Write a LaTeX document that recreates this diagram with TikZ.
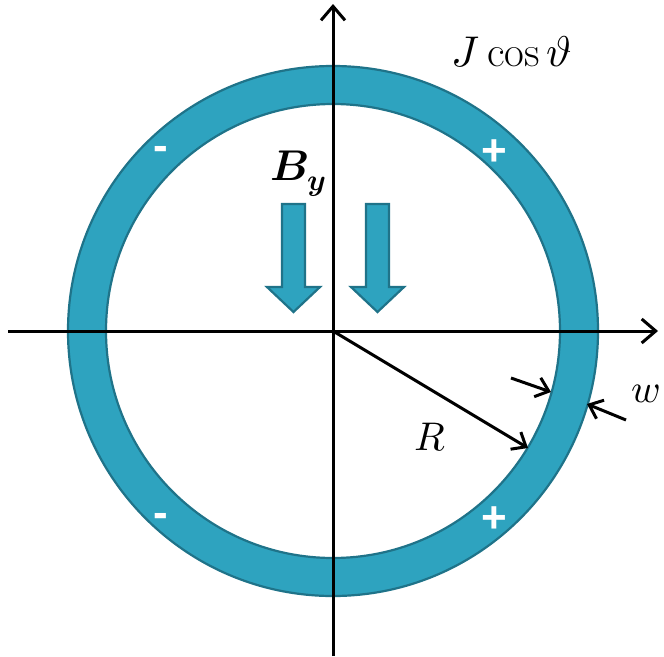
\documentclass[tikz,border=0pt]{standalone}
\usepackage{fontspec}
\usepackage{unicode-math}
\setmathfont{Latin Modern Math}
\newfontfamily\signfont{Liberation Sans}
\usetikzlibrary{arrows.meta}
\definecolor{ringfill}{HTML}{2EA3BF}
\definecolor{ringedge}{HTML}{1F7389}
\tikzset{
  axis/.style={line width=3pt,-{Straight Barb[length=14pt,width=24pt,line width=3pt]}},
  dimarrow/.style={line width=3pt,-{Straight Barb[length=12pt,width=20pt,line width=3pt]}},
  blockarrow/.style={fill=ringfill,draw=ringedge,line width=2.2pt,line join=miter},
  sign/.style={text=white,font=\signfont\bfseries\fontsize{44}{44}\selectfont,inner sep=0pt},
  lbl/.style={font=\fontsize{40}{40}\selectfont,inner sep=0pt}
}
\begin{document}
\begin{tikzpicture}[x=1pt,y=-1pt]
\useasboundingbox (0,0) rectangle (664,656);
% ring
\fill[ringfill,even odd rule] (333,331) circle (265) (333,331) circle (227);
\draw[ringedge,line width=2.2pt] (333,331) circle (265);
\draw[ringedge,line width=2.2pt] (333,331) circle (227);
% coordinates
\coordinate (O) at (333,331);
\coordinate (xl) at (8,331);
\coordinate (xr) at (658,331);
\coordinate (yb) at (333,656);
\coordinate (yt) at (333,4);
\draw[axis] (xl) -- (xr);
\draw[axis] (yb) -- (yt);
% block arrows
\draw[blockarrow] (282,204) -- (305,204) -- (305,287) -- (320,287) -- (293.5,312) -- (267,287) -- (282,287) -- cycle;
\draw[blockarrow] (366,204) -- (389,204) -- (389,287) -- (404,287) -- (377.5,312) -- (351,287) -- (366,287) -- cycle;
% radius
\coordinate (Rend) at (528,448);
\draw[dimarrow] (O) -- (Rend);
\node[lbl] (R) at (430,437) {$R$};
% width arrows
\coordinate (w1s) at (511,378);
\coordinate (w1e) at (551,392);
\coordinate (w2s) at (626,420);
\coordinate (w2e) at (587,404);
\draw[dimarrow] (w1s) -- (w1e);
\draw[dimarrow] (w2s) -- (w2e);
\node[lbl] (w) at (646,394) {$w$};
% labels
\node[lbl,font=\fontsize{43}{43}\selectfont] (J) at (512,52) {$J\cos\vartheta$};
\node[lbl,font=\fontsize{43}{43}\selectfont,anchor=base west] (B) at (270,180) {$\symbfit{B}_{\symbfit{y}}$};
% signs
\node[sign] (m1) at (161,153) {-};
\node[sign] (p1) at (494,153) {+};
\node[sign] (m2) at (161,520) {-};
\node[sign] (p2) at (494,520) {+};
\end{tikzpicture}
\end{document}
